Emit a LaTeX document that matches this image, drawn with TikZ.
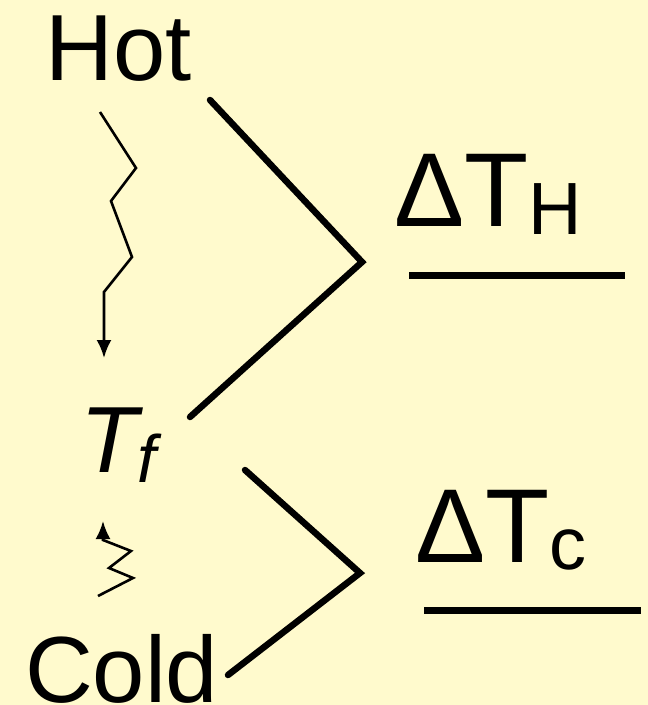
\documentclass[tikz,border=0pt]{standalone}
\usepackage{fontspec}
\setmainfont{Liberation Sans}
\usetikzlibrary{arrows.meta}
\definecolor{bgyellow}{RGB}{255,250,205}
\tikzset{
  lbl/.style={inner sep=0pt, outer sep=0pt, anchor=base west, text=black},
  bracket/.style={line width=6.5pt, line cap=round, line join=miter},
  ubar/.style={line width=7pt},
  wiggle/.style={line width=2.6pt, line join=miter, -{Latex[length=18pt,width=15pt]}}
}
\begin{document}
\begin{tikzpicture}[x=1pt,y=-1pt]
  \fill[bgyellow] (0,0) rectangle (648,705);
  \useasboundingbox (0,0) rectangle (648,705);
  % labels
  \node[lbl, font=\fontsize{94}{94}\selectfont] (hot) at (45.5,80) {Hot};
  \node[lbl, font=\fontsize{94}{94}\selectfont] (cold) at (25,702) {Cold};
  \node[lbl, font=\fontsize{94}{94}\selectfont\itshape] (tf) at (80,472) {T\raisebox{-10pt}{\fontsize{67}{67}\selectfont f}};
  \node[lbl, font=\fontsize{105}{105}\selectfont] (dth) at (394,226) {ΔT\raisebox{-8pt}{\fontsize{74}{74}\selectfont H}};
  \node[lbl, font=\fontsize{105}{105}\selectfont] (dtc) at (415,562) {ΔT\raisebox{-7pt}{\fontsize{74}{74}\selectfont c}};
  % coordinates
  \coordinate (h1) at (210,100);
  \coordinate (h2) at (362,262);
  \coordinate (h3) at (190,417);
  \coordinate (c1) at (245,470);
  \coordinate (c2) at (360,573);
  \coordinate (c3) at (228,675);
  \coordinate (uh1) at (409,275.5);
  \coordinate (uh2) at (625,275.5);
  \coordinate (uc1) at (424,610.5);
  \coordinate (uc2) at (641,610.5);
  \coordinate (wa) at (100,112);
  \coordinate (wb) at (104,358);
  \coordinate (wc) at (98,596);
  \coordinate (wd) at (103,521);
  % brackets
  \draw[bracket] (h1) -- (h2) -- (h3);
  \draw[bracket] (c1) -- (c2) -- (c3);
  % underlines
  \draw[ubar] (uh1) -- (uh2);
  \draw[ubar] (uc1) -- (uc2);
  % zigzag arrows
  \draw[wiggle] (wa) -- (136,168) -- (111,201) -- (132,257) -- (104,292) -- (wb);
  \draw[wiggle] (wc) -- (133,578) -- (109,568) -- (131,551) -- (103,540) -- (wd);
\end{tikzpicture}
\end{document}
